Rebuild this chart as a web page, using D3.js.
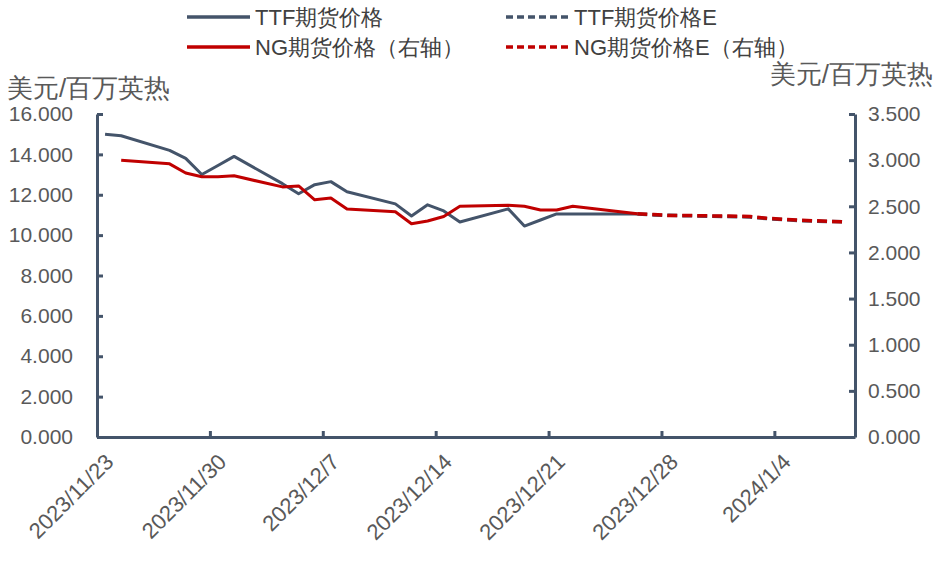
<!DOCTYPE html>
<html><head><meta charset="utf-8">
<script src="https://cdn.jsdelivr.net/npm/d3@7"></script>
<style>body{margin:0;background:#fff;}svg{display:block;}</style>
</head><body>
<svg id="chart" width="940" height="565"></svg>
<script>
// ---- data ----
const ttfDates = ["2023-11-23","2023-11-24","2023-11-27","2023-11-28","2023-11-29","2023-11-30","2023-12-01","2023-12-04","2023-12-05","2023-12-06","2023-12-07","2023-12-08","2023-12-11","2023-12-12","2023-12-13","2023-12-14","2023-12-15","2023-12-18","2023-12-19","2023-12-20","2023-12-21","2023-12-22","2023-12-26"];
const ttfValues = [15.00,14.92,14.20,13.80,13.00,13.45,13.90,12.55,12.05,12.50,12.65,12.15,11.55,10.95,11.50,11.20,10.65,11.30,10.45,10.75,11.05,11.05,11.05];
const ngDates = ["2023-11-24","2023-11-27","2023-11-28","2023-11-29","2023-11-30","2023-12-01","2023-12-04","2023-12-05","2023-12-06","2023-12-07","2023-12-08","2023-12-11","2023-12-12","2023-12-13","2023-12-14","2023-12-15","2023-12-18","2023-12-19","2023-12-20","2023-12-21","2023-12-22","2023-12-26"];
const ngValues = [3.00,2.96,2.86,2.82,2.82,2.83,2.71,2.72,2.57,2.59,2.47,2.44,2.31,2.34,2.39,2.50,2.51,2.50,2.46,2.46,2.50,2.42];
const estDates = ["2023-12-26","2023-12-27","2023-12-28","2023-12-29","2024-01-02","2024-01-03","2024-01-04","2024-01-05","2024-01-08"];
const ttfEValues = [11.05,11.00,10.98,10.96,10.90,10.82,10.77,10.72,10.65];
const ngEValues = [2.42,2.41,2.40,2.40,2.39,2.37,2.36,2.35,2.33];
const leftTicks = [0,2,4,6,8,10,12,14,16];
const rightTicks = [0,0.5,1,1.5,2,2.5,3,3.5];
const xTickDates = ["2023-11-23","2023-11-30","2023-12-07","2023-12-14","2023-12-21","2023-12-28","2024-01-04"];
const xDomain = ["2023-11-23","2024-01-09"];
const unitLabel = "美元/百万英热";
const seriesNames = ["TTF期货价格","TTF期货价格E","NG期货价格（右轴）","NG期货价格E（右轴）"];

// ---- layout ----
const svg = d3.select("#chart");
const L = 97, R = 855, T = 114, B = 437;
const cTTF = "#44546A", cNG = "#C00000", cText = "#595959";
const font = "'Liberation Sans', Arial, sans-serif";
const parse = s => { const [y,m,d] = s.split("-").map(Number); return new Date(y, m-1, d); };
const mid = s => { const d = parse(s); d.setHours(12); return d; };

const x = d3.scaleTime().domain(xDomain.map(parse)).range([L, R]);
const yL = d3.scaleLinear().domain([0,16]).range([B, T]);
const yR = d3.scaleLinear().domain([0,3.5]).range([B, T]);

const fmt3 = d3.format(".3f");
const fmtDate = d => `${d.getFullYear()}/${d.getMonth()+1}/${d.getDate()}`;

// axes
const gL = svg.append("g").attr("transform", `translate(${L},0)`)
  .call(d3.axisRight(yL).tickValues(leftTicks).tickSize(6).tickFormat(fmt3).tickSizeOuter(0));
const gR = svg.append("g").attr("transform", `translate(${R},0)`)
  .call(d3.axisLeft(yR).tickValues(rightTicks).tickSize(6).tickFormat(fmt3).tickSizeOuter(0));
const gX = svg.append("g").attr("transform", `translate(0,${B})`)
  .call(d3.axisTop(x).tickValues(xTickDates.map(parse)).tickSize(6).tickFormat(fmtDate).tickSizeOuter(0));

[gL, gR, gX].forEach(g => {
  g.select(".domain").attr("stroke", cTTF).attr("stroke-width", 3);
  g.selectAll(".tick line").attr("stroke", cTTF).attr("stroke-width", 3);
  g.selectAll(".tick text").attr("fill", cText).attr("font-family", font).attr("font-size", 21);
});
gL.selectAll(".tick text").attr("x", -24).attr("text-anchor", "end");
gR.selectAll(".tick text").attr("x", 13).attr("text-anchor", "start");
gX.selectAll(".tick text").attr("text-anchor", "end").attr("dy", null)
  .attr("font-size", 22)
  .attr("transform", "translate(6,15) rotate(-45)").attr("x", 0).attr("y", 0)
  .attr("dominant-baseline", "hanging");

// unit labels
svg.append("text").attr("x", 7).attr("y", 97).attr("font-family", font).attr("font-size", 26)
  .attr("fill", cText).text(unitLabel);
svg.append("text").attr("x", 933).attr("y", 83).attr("text-anchor", "end").attr("font-family", font)
  .attr("font-size", 26).attr("fill", cText).text(unitLabel);

// lines
const lineL = d3.line().x(d => x(mid(d[0]))).y(d => yL(d[1]));
const lineR = d3.line().x(d => x(mid(d[0]))).y(d => yR(d[1]));
const zip = (a, b) => a.map((v, i) => [v, b[i]]);

svg.append("path").datum(zip(ttfDates, ttfValues)).attr("d", lineL)
  .attr("fill", "none").attr("stroke", cTTF).attr("stroke-width", 3).attr("stroke-linejoin", "round");
svg.append("path").datum(zip(estDates, ttfEValues)).attr("d", lineL)
  .attr("fill", "none").attr("stroke", cTTF).attr("stroke-width", 3.5).attr("stroke-dasharray", "10,5");
svg.append("path").datum(zip(ngDates, ngValues)).attr("d", lineR)
  .attr("fill", "none").attr("stroke", cNG).attr("stroke-width", 3).attr("stroke-linejoin", "round");
svg.append("path").datum(zip(estDates, ngEValues)).attr("d", lineR)
  .attr("fill", "none").attr("stroke", cNG).attr("stroke-width", 3.5).attr("stroke-dasharray", "10,5");

// legend
const legend = [
  {name: seriesNames[0], c: cTTF, dash: null, x: 187, y: 17},
  {name: seriesNames[1], c: cTTF, dash: "7,4", x: 506, y: 17},
  {name: seriesNames[2], c: cNG, dash: null, x: 187, y: 47},
  {name: seriesNames[3], c: cNG, dash: "7,4", x: 506, y: 47}
];
const lg = svg.append("g").selectAll("g").data(legend).join("g")
  .attr("transform", d => `translate(${d.x},${d.y})`);
lg.append("line").attr("x1", 0).attr("x2", 63).attr("y1", 0).attr("y2", 0)
  .attr("stroke", d => d.c).attr("stroke-width", 3.5).attr("stroke-dasharray", d => d.dash);
lg.append("text").attr("x", 68).attr("y", 8).attr("font-family", font).attr("font-size", 22)
  .attr("fill", "#404040").text(d => d.name);
</script>
</body></html>
